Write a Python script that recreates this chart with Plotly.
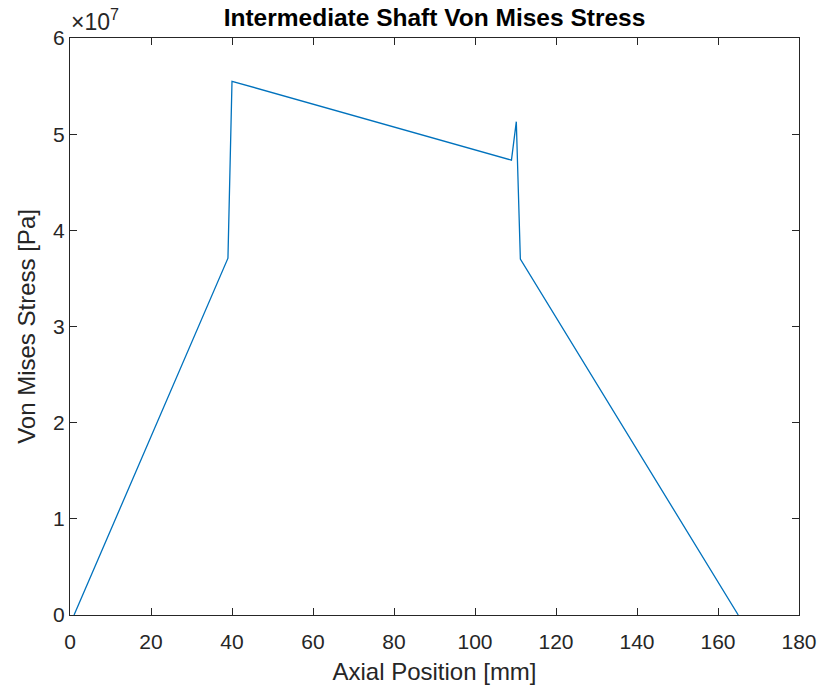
import plotly.graph_objects as go

# Data
axial_mm = [1, 39, 40, 109, 110.2, 111.2, 165]
stress_pa = [0, 3.71e7, 5.55e7, 4.73e7, 5.13e7, 3.70e7, 0]

x_ticks = [0, 20, 40, 60, 80, 100, 120, 140, 160, 180]
y_tick_vals = [0, 1e7, 2e7, 3e7, 4e7, 5e7, 6e7]
y_tick_text = ["0", "1", "2", "3", "4", "5", "6"]

FONT = "Liberation Sans, Arial, Helvetica, sans-serif"
AX = "#262626"

W, H = 819, 690

fig = go.Figure()
fig.add_trace(go.Scatter(x=axial_mm, y=stress_pa, mode="lines",
                         line=dict(color="#0072BD", width=1.3),
                         showlegend=False, hoverinfo="x+y"))

axis_common = dict(showline=True, linecolor=AX, linewidth=1, mirror="ticks",
                   ticks="inside", ticklen=7, tickcolor=AX, tickwidth=1,
                   showgrid=False, zeroline=False, ticklabeloverflow="allow",
                   automargin=False,
                   tickfont=dict(family=FONT, size=21, color=AX))

fig.update_xaxes(range=[0, 180], tickvals=x_ticks, ticklabelstandoff=8,
                 title=dict(text="Axial Position [mm]", font=dict(family=FONT, size=24, color=AX), standoff=10),
                 **axis_common)
fig.update_yaxes(range=[0, 6e7], tickvals=y_tick_vals, ticktext=y_tick_text,
                 title=dict(text="Von Mises Stress [Pa]", font=dict(family=FONT, size=24, color=AX), standoff=10),
                 **axis_common)

fig.add_annotation(text="×10<sup>7</sup>", xref="paper", yref="paper", x=0, y=1,
                   xanchor="left", yanchor="bottom", showarrow=False, yshift=1, xshift=-1,
                   font=dict(family=FONT, size=23, color=AX))

fig.update_layout(
    width=W, height=H,
    margin=dict(l=70, r=20, t=38, b=75, autoexpand=False),
    paper_bgcolor="white", plot_bgcolor="white",
    title=dict(text="<b>Intermediate Shaft Von Mises Stress</b>", x=0.5, xref="paper",
               xanchor="center", y=1 - 17 / H, yanchor="middle",
               font=dict(family=FONT, size=24.5, color="black")),
)

fig.write_html("out.html", config={"displayModeBar": False},
               post_script="document.body.style.margin='0';document.body.style.overflow='hidden';")
